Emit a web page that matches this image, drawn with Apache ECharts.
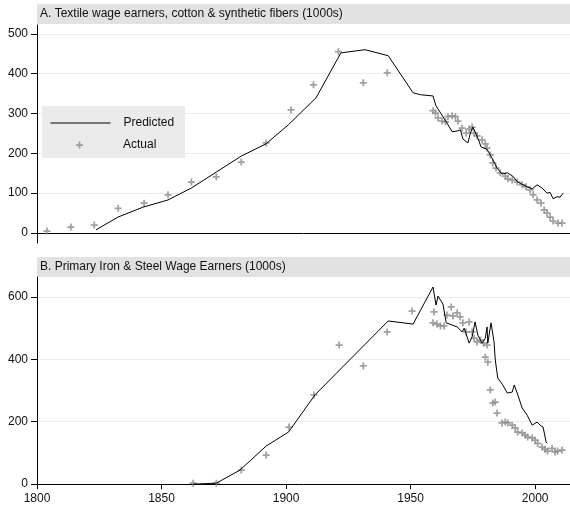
<!DOCTYPE html>
<html><head><meta charset="utf-8">
<script src="https://cdn.jsdelivr.net/npm/echarts@6/dist/echarts.min.js"></script>
<style>html,body{margin:0;padding:0;background:#fff}#c{width:570px;height:505px}</style>
</head><body><div id="c"></div>
<script>
const titleA = 'A. Textile wage earners, cotton & synthetic fibers (1000s)';
const titleB = 'B. Primary Iron & Steel Wage Earners (1000s)';
const legendNames = ['Predicted', 'Actual'];
const xTicks = [1800, 1850, 1900, 1950, 2000];
const yTicksA = [0, 100, 200, 300, 400, 500];
const yTicksB = [0, 200, 400, 600];

const predAYears = [1823.7,1832.5,1842.6,1852.6,1862,1872,1882,1892,1901,1912,1922,1931.7,1941,1951,1954,1959,1960.2,1960.6,1962.6,1964.6,1966.7,1968.7,1970,1971,1973,1974,1975,1977,1978.3,1980.7,1982.7,1984.7,1986.7,1988.8,1991,1993,1996.8,1998.8,2000.8,2002.8,2004.8,2006,2007.2,2008.8,2010,2011.2];
const predAVals  = [8,40,65,83,113,153,193,224,272,339,452,460,445,352,347,344,319,324,296,276,254,256,259,236,226,251,266,238,216,210,188,163,148,151,143,128,116,111,121,113,100,102,86,91,90,100];

const actAYears = [1804,1813.6,1823,1832.6,1843,1852.6,1862,1872,1882,1892,1902,1911,1921,1931,1940.6,1959,1960,1961,1962.6,1964,1965,1966.7,1968,1969,1970.7,1972.3,1973.5,1974.7,1975.5,1976.7,1978.7,1980,1980.7,1982,1983,1984.3,1986,1988,1989,1990.8,1992.8,1994.8,1996.4,1998,1999.2,2000.8,2002.4,2003.6,2004.8,2006,2007.2,2009.2,2010.8];
const actAVals  = [5,15,20,62,75,96,128,141,178,226,309,372,455,377,402,307,301,289,281,279,292,294,292,281,263,251,261,266,251,244,234,224,213,196,176,163,151,143,136,133,128,121,116,108,96,83,75,58,50,40,30,25,25];

const predBYears = [1862.7,1872,1881.5,1892,1901,1911.6,1941,1951,1959,1960.2,1961,1962,1963,1964.3,1966.7,1968.7,1970.7,1971.5,1972.7,1973.5,1974.7,1975.9,1977,1978.7,1980,1980.7,1981,1982.3,1983,1983.5,1984,1985,1987,1988.8,1990.8,1991.6,1992.8,1994.8,1996.8,1998.8,2000.8,2002,2003.2,2004.4,2004.8];
const predBVals  = [0,3,45,122,167,286,523,513,632,574,603,590,577,517,510,504,488,500,472,452,472,520,478,452,468,504,452,517,520,456,398,340,318,292,295,318,292,244,221,189,199,189,183,135,131];

const actBYears = [1862.7,1872,1882,1892,1901.2,1911.2,1921.3,1931,1940.6,1950.6,1959,1959.4,1960.6,1962,1963.4,1964.6,1966.3,1967,1968.7,1969.9,1971,1972.3,1973.5,1974.7,1975.5,1976.7,1978,1979.3,1980.7,1980,1981,1982,1983,1984,1984.7,1986.7,1988,1989,1990.8,1992,1993,1994.8,1996,1997,1998.8,2000,2001,2002.8,2004,2005,2006.8,2008,2009,2010.8];
const actBVals  = [3,3,45,93,183,286,446,379,488,555,517,552,513,507,507,542,568,539,549,536,517,488,520,488,468,456,462,452,446,407,391,302,260,263,228,196,199,196,189,180,167,164,157,151,148,141,131,119,112,106,115,103,106,109];

const zip = (a, b) => a.map((v, i) => [v, b[i]]);
const FONT = 'Liberation Sans, Arial, Helvetica, sans-serif';
const plus = 'path://M3,0H5V3H8V5H5V8H3V5H0V3H3Z';

const chart = echarts.init(document.getElementById('c'), null, { renderer: 'canvas' });
const yAxisCommon = ticks => ({
  type: 'value',
  axisLine: { show: true, lineStyle: { color: '#000', width: 1 } },
  axisTick: { show: true, length: 6, customValues: ticks, lineStyle: { color: '#000' } },
  axisLabel: { customValues: ticks, margin: 9, color: '#111', fontSize: 12, fontFamily: FONT },
  splitLine: { show: true, lineStyle: { color: '#ececec', width: 1 } }
});
chart.setOption({
  animation: false,
  textStyle: { fontFamily: FONT },
  title: [
    { text: titleA, left: 40, top: 8, padding: 0, textStyle: { fontSize: 12, fontWeight: 'normal', color: '#111', fontFamily: FONT } },
    { text: titleB, left: 40, top: 261, padding: 0, textStyle: { fontSize: 12, fontWeight: 'normal', color: '#111', fontFamily: FONT } }
  ],
  graphic: [
    { type: 'rect', z: -1, shape: { x: 37, y: 4, width: 533, height: 20 }, style: { fill: '#e2e2e2' } },
    { type: 'rect', z: -1, shape: { x: 37, y: 257, width: 533, height: 20 }, style: { fill: '#e2e2e2' } },
    { type: 'rect', z: 20, shape: { x: 42, y: 106, width: 143, height: 52 }, style: { fill: '#ebebeb' } }
  ],
  legend: [
    { data: [legendNames[0]], left: 50, top: 117, padding: 0, z: 25, itemWidth: 60, itemHeight: 14,
      itemStyle: { opacity: 0 }, lineStyle: { color: '#000', width: 1 },
      textStyle: { fontSize: 12, color: '#111', padding: [0, 0, 0, 8], fontFamily: FONT }, selectedMode: false },
    { data: [legendNames[1]], left: 76, top: 139, padding: 0, z: 25, itemWidth: 7, itemHeight: 7,
      textStyle: { fontSize: 12, color: '#111', padding: [0, 0, 0, 35], fontFamily: FONT }, selectedMode: false }
  ],
  grid: [
    { left: 37, right: 0, top: 25, height: 218, containLabel: false },
    { left: 37, right: 0, top: 277, height: 209, containLabel: false }
  ],
  xAxis: [
    { gridIndex: 0, type: 'value', min: 1800, max: 2014,
      axisLine: { show: true, lineStyle: { color: '#000', width: 1 } },
      axisTick: { show: false }, axisLabel: { show: false }, splitLine: { show: false } },
    { gridIndex: 1, type: 'value', min: 1800, max: 2014,
      axisLine: { show: true, lineStyle: { color: '#000', width: 1 } },
      axisTick: { show: true, length: 5, customValues: xTicks, lineStyle: { color: '#000' } },
      axisLabel: { customValues: xTicks, margin: 7, color: '#111', fontSize: 12, fontFamily: FONT, formatter: v => String(v) },
      splitLine: { show: false } }
  ],
  yAxis: [
    Object.assign({ gridIndex: 0, min: -25, max: 522 }, yAxisCommon(yTicksA)),
    Object.assign({ gridIndex: 1, min: -6, max: 664 }, yAxisCommon(yTicksB))
  ],
  series: [
    { name: legendNames[0], type: 'line', xAxisIndex: 0, yAxisIndex: 0, data: zip(predAYears, predAVals),
      symbol: 'none', lineStyle: { color: '#000', width: 1 }, itemStyle: { color: '#000' }, z: 3 },
    { name: legendNames[1], type: 'scatter', xAxisIndex: 0, yAxisIndex: 0, data: zip(actAYears, actAVals),
      symbol: plus, symbolSize: 7, itemStyle: { color: '#8a8a8a' }, z: 2 },
    { name: legendNames[0], type: 'line', xAxisIndex: 1, yAxisIndex: 1, data: zip(predBYears, predBVals),
      symbol: 'none', lineStyle: { color: '#000', width: 1 }, itemStyle: { color: '#000' }, z: 3 },
    { name: legendNames[1], type: 'scatter', xAxisIndex: 1, yAxisIndex: 1, data: zip(actBYears, actBVals),
      symbol: plus, symbolSize: 7, itemStyle: { color: '#8a8a8a' }, z: 2 }
  ]
});
</script></body></html>
